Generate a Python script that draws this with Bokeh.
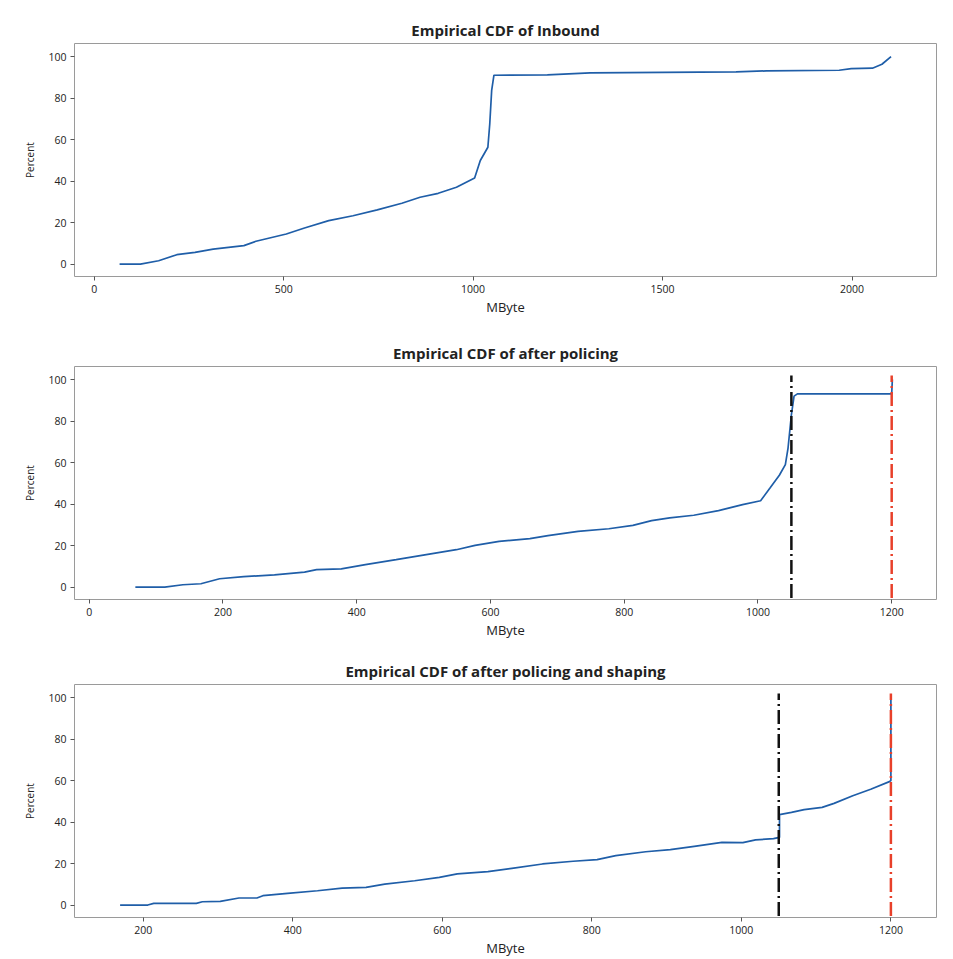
from bokeh.plotting import figure
from bokeh.layouts import column
from bokeh.models import FixedTicker, Range1d
from bokeh.embed import file_html
from bokeh.resources import INLINE

# ---- data (MByte, Percent) ----
inbound_x = [67, 122, 170, 218, 266, 314, 395, 427, 507, 555, 619, 683, 747, 812, 860, 908,
             956, 1004, 1019, 1039, 1044, 1049, 1055, 1196, 1309, 1694, 1774, 1966, 1998,
             2054, 2079, 2103]
inbound_y = [0, 0, 1.6, 4.5, 5.6, 7.2, 8.9, 11, 14.5, 17.4, 20.9, 23.3, 26.1, 29.3, 32.2, 34.1,
             37, 41.5, 49.9, 56.3, 67.6, 83.7, 91, 91.2, 92.1, 92.6, 93.1, 93.4, 94.2,
             94.4, 96.3, 100]

policing_x = [69, 113, 140, 167, 195, 231, 277, 322, 340, 377, 413, 459, 504, 549, 577, 613,
              659, 686, 731, 777, 813, 841, 868, 904, 941, 977, 1004, 1018, 1032, 1041, 1045,
              1050, 1054, 1059, 1200, 1201]
policing_y = [0, 0, 1.1, 1.6, 4.0, 5.0, 5.9, 7.2, 8.4, 8.8, 10.8, 13.2, 15.6, 18, 20.1, 22,
              23.3, 24.8, 26.8, 28.1, 29.7, 32, 33.3, 34.6, 36.8, 39.7, 41.6, 47.7, 53.9, 59,
              67, 83, 92, 93.1, 93.1, 100]

shaping_x = [169, 206, 214, 271, 279, 303, 328, 352, 360, 393, 433, 466, 498, 523, 563, 596,
             620, 661, 693, 734, 775, 807, 832, 872, 905, 937, 974, 1002, 1019, 1043, 1051,
             1051, 1067, 1084, 1108, 1124, 1149, 1173, 1198, 1200, 1200]
shaping_y = [0, 0, 0.8, 0.8, 1.6, 1.8, 3.4, 3.4, 4.5, 5.6, 6.9, 8.2, 8.5, 10.1, 11.7, 13.3,
             15, 16.1, 17.7, 19.8, 21.1, 21.9, 23.8, 25.7, 26.7, 28.3, 30.2, 30.1, 31.4, 32,
             32.6, 43.6, 44.7, 46, 47.1, 49, 52.7, 55.8, 59.5, 60, 100]

# reference thresholds (MByte) and their vertical extent (Percent)
threshold_black = 1050
threshold_red = 1200
ref_y = [-5.3, 102]

titles = ["Empirical CDF of Inbound", "Empirical CDF of after policing",
          "Empirical CDF of after policing and shaping"]
x_ticks_1 = [0, 500, 1000, 1500, 2000]
x_ticks_2 = [0, 200, 400, 600, 800, 1000, 1200]
x_ticks_3 = [200, 400, 600, 800, 1000, 1200]
y_ticks = [0, 20, 40, 60, 80, 100]

LINE = "#1f5ea8"
FONT = "Open Sans"


def make_fig(title, xr, ticks, border_top, border_bottom):
    p = figure(frame_width=862, frame_height=233, output_backend="svg",
               toolbar_location=None, x_range=Range1d(*xr), y_range=Range1d(-6, 106.3),
               min_border_left=74, min_border_right=8,
               min_border_top=border_top, min_border_bottom=border_bottom,
               title=title)
    p.title.align = "center"
    p.title.text_font = FONT
    p.title.text_font_style = "bold"
    p.title.text_font_size = "15px"
    p.title.text_color = "#222222"
    p.title.standoff = 8
    p.outline_line_color = "#9a9a9a"
    p.outline_line_width = 1
    p.grid.visible = False
    p.background_fill_color = "white"
    p.border_fill_color = "white"
    for ax in (p.xaxis[0], p.yaxis[0]):
        ax.axis_line_color = None
        ax.major_tick_line_color = "#555555"
        ax.major_tick_out = 4
        ax.major_tick_in = 0
        ax.minor_tick_line_color = None
        ax.major_label_text_font = FONT
        ax.major_label_text_font_size = "10.5px"
        ax.major_label_text_color = "#222222"
        ax.axis_label_text_font = FONT
        ax.axis_label_text_font_style = "normal"
        ax.axis_label_text_color = "#222222"
    p.xaxis.ticker = FixedTicker(ticks=ticks)
    p.yaxis.ticker = FixedTicker(ticks=y_ticks)
    p.xaxis.axis_label = "MByte"
    p.xaxis.axis_label_text_font_size = "13px"
    p.xaxis.axis_label_standoff = 2
    p.xaxis.major_label_standoff = 4
    p.yaxis.axis_label = "Percent"
    p.yaxis.axis_label_text_font_size = "10px"
    p.yaxis.axis_label_standoff = 8
    p.yaxis.major_label_standoff = 4
    return p


p1 = make_fig(titles[0], (-52, 2223), x_ticks_1, 43, 52)
p1.line(inbound_x, inbound_y, line_color=LINE, line_width=1.7)

p2 = make_fig(titles[1], (-22, 1267), x_ticks_2, 38, 49)
p2.line(policing_x, policing_y, line_color=LINE, line_width=1.7)

p3 = make_fig(titles[2], (108, 1261), x_ticks_3, 36, 33)
p3.line(shaping_x, shaping_y, line_color=LINE, line_width=1.7)

for p in (p2, p3):
    p.segment(x0=[threshold_black], y0=[ref_y[0]], x1=[threshold_black], y1=[ref_y[1]],
              line_color="#111111", line_width=2.5, line_dash="14 4 2 4")
    p.segment(x0=[threshold_red], y0=[ref_y[0]], x1=[threshold_red], y1=[ref_y[1]],
              line_color="#e8402a", line_width=2.5, line_dash="14 4 2 4")

layout = column(p1, p2, p3, spacing=0)
open("out.html", "w").write(file_html(layout, INLINE))
